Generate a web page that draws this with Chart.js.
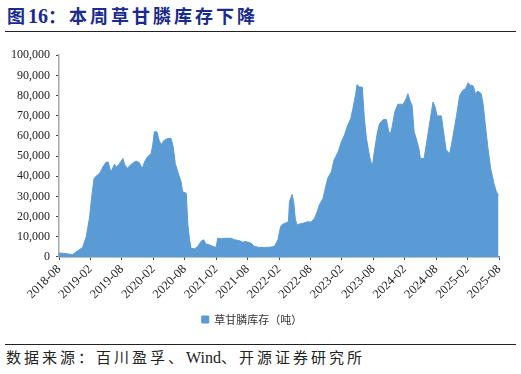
<!DOCTYPE html>
<html>
<head>
<meta charset="utf-8">
<script src="https://cdn.jsdelivr.net/npm/chart.js@4.4.1/dist/chart.umd.min.js"></script>
<style>
  html, body { margin:0; padding:0; background:#fff; }
  body { width:521px; height:374px; position:relative; overflow:hidden; }
  #title { position:absolute; left:7px; top:2px; font-family:"Noto Sans CJK SC", serif; font-weight:bold; font-size:18px; color:#1a2b8c; letter-spacing:3px; white-space:nowrap; }
  #title .num { font-family:"Liberation Serif", serif; font-size:20px; letter-spacing:0; }
  .rule { position:absolute; left:5px; width:511px; height:0; border-top:1.5px solid #222; }
  #source { position:absolute; left:6px; top:346px; font-family:"Noto Sans CJK SC", serif; font-size:15px; color:#222; letter-spacing:3px; white-space:nowrap; }
  #source .lat { font-family:"Liberation Serif", serif; font-size:16px; letter-spacing:0; }
  #wrap { position:absolute; left:0; top:42px; width:521px; height:293px; }
</style>
</head>
<body>
<div id="title">图<span class="num">16</span>：本周草甘膦库存下降</div>
<div class="rule" style="top:31px"></div>
<div id="wrap"><canvas id="chart"></canvas></div>
<div class="rule" style="top:344px"></div>
<div id="source">数据来源：百川盈孚、<span class="lat">Wind</span>、开源证券研究所</div>
<script>
const $ = id => document.getElementById(id);

/* DATA */
const seriesName = "草甘膦库存（吨）";
// months since 2018-08
const months = [
  0, 2.6, 4.5, 5.2, 5.8, 6.3, 6.7, 7.4, 7.9, 8.4, 9.0, 9.4, 9.9, 10.6, 10.9, 11.5, 12.2, 12.5, 13.0, 13.8,
  14.7, 15.3, 15.9, 16.3, 16.9, 17.6, 17.9, 18.2, 18.7, 19.1, 19.5, 20.1, 20.8, 21.4, 21.8, 22.2, 22.7, 23.3, 23.6, 24.3,
  24.6, 24.9, 25.2, 25.9, 26.5, 27.1, 27.6, 28.1, 28.7, 29.4, 30.0, 30.3, 31.0, 31.9, 32.9, 33.5, 34.5, 35.1, 35.7, 36.7,
  37.3, 38.3, 39.2, 40.2, 41.1, 41.8, 42.3, 42.7, 43.4, 43.8, 44.0, 44.5, 44.8, 45.1, 45.4, 46.6, 47.5, 48.1, 48.8, 49.3,
  49.7, 50.4, 50.7, 51.3, 52.0, 52.5, 53.3, 53.9, 54.5, 55.0, 55.7, 56.1, 56.6, 56.9, 57.4, 57.9, 58.3, 58.7, 59.3, 59.8,
  60.2, 60.8, 61.2, 61.9, 62.5, 62.9, 63.2, 63.6, 64.1, 64.7, 65.7, 66.3, 66.6, 67.1, 67.4, 67.8, 68.2, 68.7, 69.0, 69.7,
  70.1, 70.8, 71.4, 71.8, 72.2, 73.0, 73.5, 73.9, 74.6, 75.2, 75.9, 76.5, 77.1, 77.6, 78.1, 78.6, 79.1, 79.5, 80.0, 80.6,
  81.0, 81.4, 81.9, 82.4, 83.1, 83.5, 83.9
];
const stock = [
  2000, 1200, 4700, 10000, 19000, 31000, 39000, 40700, 42000, 44700, 47000, 47000, 42000, 46000, 44500, 46000, 48800, 46000, 43800, 46000,
  47500, 46800, 43800, 47000, 49600, 51300, 55600, 62000, 62000, 57900, 55600, 57900, 58700, 58700, 54600, 46300, 42000, 37300, 32400, 31500,
  16000, 9300, 4300, 4000, 5200, 7700, 8500, 6300, 6000, 5200, 4700, 9300, 9000, 9300, 9200, 8500, 8000, 7300, 7600, 6800,
  5200, 4700, 4700, 4800, 5200, 8500, 15000, 16200, 17000, 17500, 27400, 31000, 27400, 19200, 16000, 16700, 17500, 17200, 19200, 22500,
  25800, 29000, 32400, 39000, 42200, 48000, 52100, 57000, 60400, 64500, 68600, 73500, 80100, 85400, 84200, 84200, 68600, 58700, 49600, 44700,
  52100, 62000, 66100, 68100, 68100, 62800, 60400, 64500, 71900, 75700, 75700, 78500, 80900, 76800, 75200, 62000, 58700, 53700, 48800, 48800,
  55400, 66900, 76800, 74300, 69900, 69900, 60400, 53000, 51300, 59500, 70200, 80100, 82600, 83400, 86300, 85000, 84700, 80900, 82200, 80900,
  75200, 65300, 53700, 43900, 35700, 32400, 30400
];
const tickLabels = ["2018-08","2019-02","2019-08","2020-02","2020-08","2021-02","2021-08","2022-02",
                    "2022-08","2023-02","2023-08","2024-02","2024-08","2025-02","2025-08"];
const yTicks = [0, 10000, 20000, 30000, 40000, 50000, 60000, 70000, 80000, 90000, 100000];

const points = months.map((m, i) => ({ x: m, y: stock[i] }));
const serif = "'Liberation Serif', 'Times New Roman', serif";

new Chart($("chart"), {
  type: "line",
  data: { datasets: [{
    label: seriesName,
    data: points,
    fill: "origin",
    backgroundColor: "#5b9bd5",
    borderColor: "#5b9bd5",
    borderWidth: 1,
    pointRadius: 0,
    tension: 0
  }]},
  options: {
    responsive: true,
    maintainAspectRatio: false,
    animation: false,
    layout: { padding: { left: 5, right: 22, top: 2, bottom: 0 } },
    plugins: {
      tooltip: { enabled: false },
      legend: {
        position: "bottom",
        labels: {
          boxWidth: 7, boxHeight: 7, padding: 10,
          color: "#333",
          font: { family: "'Noto Sans CJK SC', sans-serif", size: 11 }
        }
      }
    },
    scales: {
      x: {
        type: "linear",
        min: 0, max: 84,
        afterBuildTicks: axis => { axis.ticks = tickLabels.map((_, i) => ({ value: i * 6 })); },
        ticks: {
          autoSkip: false, maxRotation: 45, minRotation: 45,
          color: "#222", padding: 2,
          font: { family: serif, size: 12.5 },
          callback: v => tickLabels[Math.round(v / 6)]
        },
        grid: { drawOnChartArea: false, drawTicks: true, tickLength: 3, color: "#444" },
        border: { color: "#888", width: 1.5 }
      },
      y: {
        min: 0, max: 100000,
        afterBuildTicks: axis => { axis.ticks = yTicks.map(v => ({ value: v })); },
        ticks: {
          color: "#222", padding: 6,
          font: { family: serif, size: 12 },
          callback: v => v.toLocaleString("en-US")
        },
        grid: { drawOnChartArea: false, drawTicks: true, tickLength: 3, color: "#444" },
        border: { color: "#aaa", width: 1.5 }
      }
    }
  }
});
</script>
</body>
</html>
